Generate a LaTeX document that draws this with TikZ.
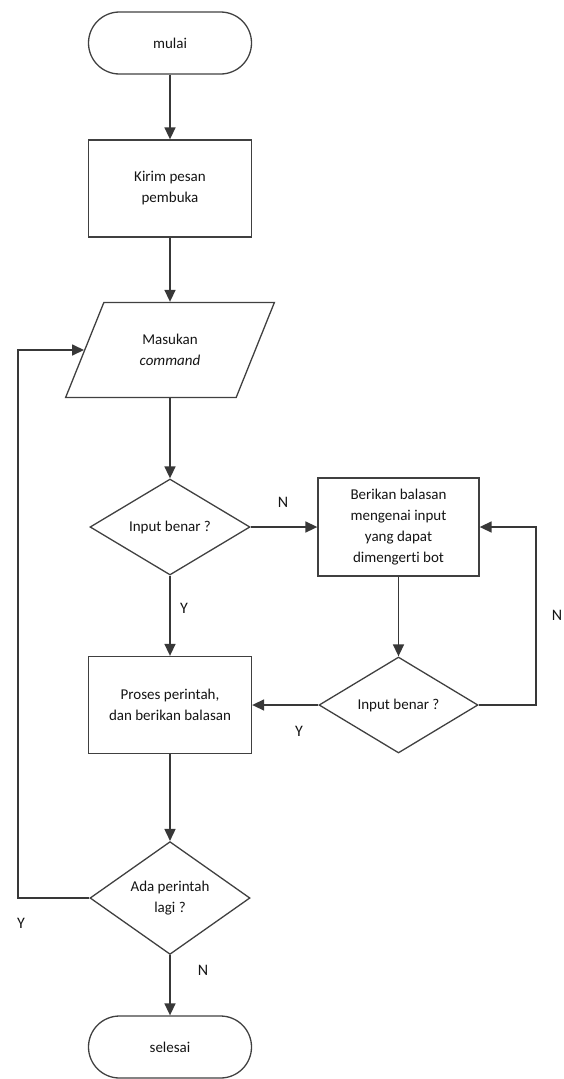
\documentclass[tikz,border=0pt]{standalone}
\usepackage{fontspec}
\setmainfont{Carlito}[Ligatures=NoCommon]
\usetikzlibrary{shapes.geometric,arrows.meta,calc}
\begin{document}
\begin{tikzpicture}[x=1pt,y=-1pt,
  every node/.style={font=\fontsize{15}{21}\selectfont, text=black!92, align=center},
  shapeline/.style={draw=black!75, line width=1.3pt},
  box/.style={shapeline, rectangle, minimum width=163pt, minimum height=97pt, inner sep=2pt},
  term/.style={shapeline, rectangle, rounded corners=31pt, minimum width=163pt, minimum height=62pt},
  io/.style={shapeline, trapezium, trapezium left angle=63, trapezium right angle=117,
             trapezium stretches=true, minimum width=209pt, minimum height=95pt},
  dec/.style={shapeline, diamond, minimum width=160pt, minimum height=96pt, inner sep=0pt},
  flow/.style={draw=black!78, line width=1.6pt, -{Triangle[length=12pt,width=11pt]}},
  lbl/.style={font=\fontsize{16}{16}\selectfont}
]
\useasboundingbox (0,0) rectangle (564,1079);

% main column
\node[term] (start) at (170,43) {mulai};
\node[box]  (send)  at (170,188.5) {Kirim pesan\\pembuka};
\node[io]   (input) at (170,350) {Masukan\\\textit{command}};
\node[dec]  (dec1)  at (170,527) {Input benar ?};
\node[box]  (proc)  at (170,705) {Proses perintah,\\dan berikan balasan};
\node[dec]  (dec3)  at (170,898) {Ada perintah\\lagi ?};
\node[term] (stop)  at (170,1047) {selesai};

% right column
\node[box, minimum width=161pt, minimum height=98pt] (reply) at (398.5,527)
  {Berikan balasan\\mengenai input\\yang dapat\\dimengerti bot};
\node[dec, minimum width=159pt] (dec2) at (398.5,705) {Input benar ?};

% loop-back turning points
\coordinate (loopL) at (18,350);
\coordinate (loopR) at (536,600);

% connectors
\draw[flow] (start) -- (send);
\draw[flow] (send) -- (input);
\draw[flow] (input) -- (dec1);
\draw[flow] (dec1) -- (reply);
\draw[flow] (dec1) -- (proc);
\draw[flow] (reply) -- (dec2);
\draw[flow] (dec2) -- (proc);
\draw[flow] (dec2.east) -- (dec2.east -| loopR) |- (reply.east);
\draw[flow] (proc) -- (dec3);
\draw[flow] (dec3.west) -- (dec3.west -| loopL) |- (input.left side);
\draw[flow] (dec3) -- (stop);

% branch labels
\node[lbl] (n1) at (283,502) {N};
\node[lbl] (y1) at (184,608) {Y};
\node[lbl] (n2) at (557,615) {N};
\node[lbl] (y2) at (299,731) {Y};
\node[lbl] (y3) at (21,923) {Y};
\node[lbl] (n3) at (203,970) {N};
\end{tikzpicture}
\end{document}
